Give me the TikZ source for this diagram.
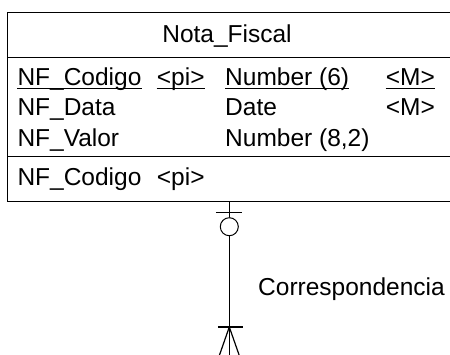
\documentclass[tikz,border=0pt]{standalone}
\usepackage{fontspec}
\setmainfont{Liberation Sans}
\usetikzlibrary{positioning}
\tikzset{
  txt/.style={inner sep=0pt, font=\fontsize{24.5}{29}\selectfont},
  col/.style={txt, anchor=base west},
  edge/.style={line width=1.2pt},
}
\begin{document}
\begin{tikzpicture}[x=1pt,y=-1pt]
                \clip (0,0) rectangle (450,354);
                \useasboundingbox (0,0) rectangle (450,354);

                %%entity box
                \draw[edge](460, 12.3) -- (7.3, 12.3) -- (7.3, 201.7) -- (460, 201.7);
                \draw[edge](7.3, 57.3) to (460, 57.3);
                \draw[edge](7.3, 156.7) to (460, 156.7);
                    \node[txt, anchor=base] (title) at (227, 42.7){Nota\_Fiscal};

                %%attributes
                \node[col] (codigo) at (17.3, 85.5){NF\_Codigo};
                \node[col] (pia) at (156.7, 85.5){<pi>};
                \node[col] (num) at (225, 85.5){Number (6)};
                \node[col] (ma) at (385.7, 85.5){<M>};
                    \foreach \n in {codigo, pia, num, ma}
                        \draw[line width=0.9pt]([yshift=-3pt]\n.base west) to ([yshift=-3pt]\n.base east);

                \node[col] (data) at (17.3, 115.5){NF\_Data};
                \node[col] (date) at (225, 115.5){Date};
                \node[col] (mb) at (385.7, 115.5){<M>};

                \node[col] (valor) at (17.3, 146){NF\_Valor};
                \node[col] (dec) at (225, 146){Number (8,2)};

                %%identifier
                \node[col] (ident) at (17.3, 185){NF\_Codigo};
                \node[col] (pib) at (156.7, 185){<pi>};

                %%relationship
                \coordinate (src) at (229.3, 201.7);
                \coordinate (tick1) at (229.3, 212.7);
                \node[circle, draw, line width=1pt, minimum size=18pt, inner sep=0pt] (opt) at (229.3, 226.7){};
                \coordinate (tick2) at (229.3, 327);
                \coordinate (dst) at (229.3, 360);
                    \draw[edge](src) to (opt.north);
                    \draw[edge](opt.south) to (dst);
                    \draw[edge]([xshift=-13.5]tick1) to ([xshift=12.5]tick1);
                    \draw[edge]([xshift=-11.5]tick2) to ([xshift=13.5]tick2);
                    \draw[edge](tick2) to ++(-10.5, 30);
                    \draw[edge](tick2) to ++(10.5, 30);
                \node[col] (rel) at (258, 295){Correspondencia};
\end{tikzpicture}
\end{document}
